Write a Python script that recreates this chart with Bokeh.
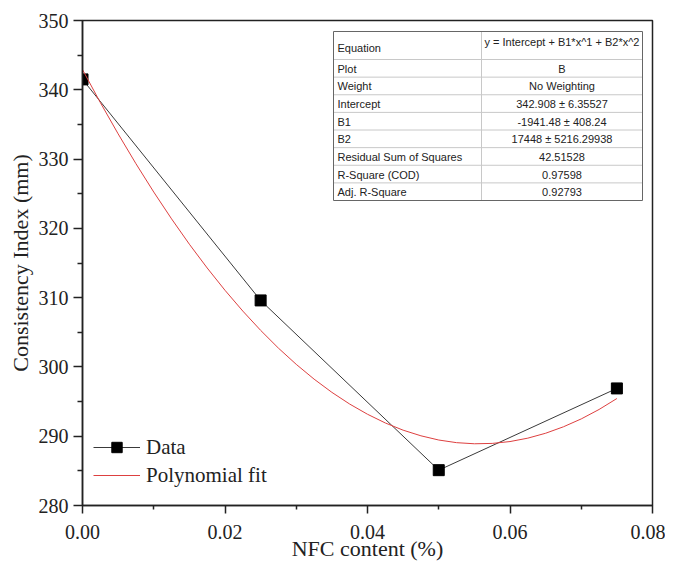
from bokeh.plotting import figure
from bokeh.models import FixedTicker, Range1d, Legend, LegendItem, Title
from bokeh.core.properties import value
from bokeh.embed import file_html
from bokeh.resources import INLINE

# ---- data ----
nfc = [0.0, 0.025, 0.05, 0.075]
consistency = [341.5, 309.6, 285.1, 296.9]

fit_x = [0.0, 0.0025, 0.005, 0.0075, 0.01, 0.0125, 0.015, 0.0175, 0.02, 0.0225,
         0.025, 0.0275, 0.03, 0.0325, 0.035, 0.0375, 0.04, 0.0425, 0.045, 0.0475,
         0.05, 0.0525, 0.055, 0.0575, 0.06, 0.0625, 0.065, 0.0675, 0.07, 0.0725,
         0.075]
fit_y = [342.91, 338.16, 333.64, 329.33, 325.24, 321.37, 317.71, 314.28, 311.06, 308.06,
         305.28, 302.71, 300.37, 298.24, 296.33, 294.64, 293.17, 291.91, 290.87, 290.06,
         289.45, 289.07, 288.91, 288.96, 289.23, 289.72, 290.43, 291.36, 292.50, 293.86,
         295.44]

x_ticks = [0.0, 0.02, 0.04, 0.06, 0.08]
x_minor = [0.01, 0.03, 0.05, 0.07]
x_tick_labels = ["0.00", "0.02", "0.04", "0.06", "0.08"]
y_ticks = [280, 290, 300, 310, 320, 330, 340, 350]
y_minor = [285, 295, 305, 315, 325, 335, 345]

x_title = "NFC content (%)"
y_title = "Consistency Index (mm)"

table_labels = ["Equation", "Plot", "Weight", "Intercept", "B1", "B2",
                "Residual Sum of Squares", "R-Square (COD)", "Adj. R-Square"]
table_values = ["y = Intercept + B1*x^1 + B2*x^2", "B", "No Weighting",
                "342.908 \u00b1 6.35527", "-1941.48 \u00b1 408.24",
                "17448 \u00b1 5216.29938", "42.51528", "0.97598", "0.92793"]

XMIN, XMAX, YMIN, YMAX = 0.0, 0.08, 280, 350

FONT = "Liberation Serif"

p = figure(width=665, height=569, output_backend="svg", toolbar_location=None,
           x_range=Range1d(XMIN, XMAX), y_range=Range1d(YMIN, YMAX),
           min_border_left=82, min_border_top=20, min_border_right=13,
           min_border_bottom=64)
p.grid.visible = False
p.outline_line_color = "#222222"
p.outline_line_width = 1.5
p.background_fill_color = "white"
p.border_fill_color = "white"

# axes
p.xaxis.ticker = FixedTicker(ticks=x_ticks, minor_ticks=x_minor)
p.xaxis.major_label_overrides = {t: l for t, l in zip(x_ticks, x_tick_labels)}
p.yaxis.ticker = FixedTicker(ticks=y_ticks, minor_ticks=y_minor)
p.xaxis.axis_label = x_title
for ax in (p.xaxis, p.yaxis):
    ax.axis_line_color = "#222222"
    ax.axis_line_width = 1.5
    ax.major_tick_line_color = "#222222"
    ax.major_tick_line_width = 1.5
    ax.minor_tick_line_color = "#222222"
    ax.minor_tick_line_width = 1.5
    ax.major_tick_in = 0
    ax.minor_tick_in = 0
    ax.major_label_text_font = FONT
    ax.major_label_text_font_size = "20px"
    ax.major_label_text_color = "#222222"
    ax.axis_label_text_font = FONT
    ax.axis_label_text_font_style = "normal"
    ax.axis_label_text_color = "#222222"
p.xaxis.major_tick_out = 8
p.xaxis.minor_tick_out = 4
p.yaxis.major_tick_out = 9
p.yaxis.minor_tick_out = 5
p.xaxis.axis_label_text_font_size = "22px"
p.xaxis.major_label_standoff = 11
p.yaxis.major_label_standoff = 5
p.xaxis.axis_label_standoff = -6

# y-axis title, placed slightly above centre as in the original
ytitle = Title(text=y_title, align="center", offset=9, standoff=6,
               text_font=FONT, text_font_size="22px", text_font_style="normal",
               text_color="#222222")
p.add_layout(ytitle, "left")

# series
data_line = p.line(nfc, consistency, line_color="#3a3a3a", line_width=1)
data_pts = p.scatter(nfc, consistency, marker="square", size=11,
                     fill_color="black", line_color="black")
fit_line = p.line(fit_x, fit_y, line_color="#dd4040", line_width=1)

legend = Legend(items=[LegendItem(label="Data", renderers=[data_line, data_pts]),
                       LegendItem(label="Polynomial fit", renderers=[fit_line])],
                location=(11, 16), orientation="vertical")
legend.border_line_alpha = 0
legend.background_fill_alpha = 0
legend.padding = 0
legend.margin = 0
legend.spacing = 0
legend.glyph_width = 47
legend.glyph_height = 26
legend.label_height = 28
legend.label_standoff = 6
legend.label_text_font = FONT
legend.label_text_font_size = "21px"
legend.label_text_color = "#222222"
p.add_layout(legend, "center")

# ---- results table, positioned from page pixels ----
PX0, PX1, PY0, PY1 = 82, 652, 505, 20
def dx(px):
    return XMIN + (px - PX0) / (PX1 - PX0) * (XMAX - XMIN)
def dy(py):
    return YMIN + (PY0 - py) / (PY0 - PY1) * (YMAX - YMIN)

T_L, T_M, T_R, T_T, T_B = 333, 481, 642, 31, 200
row_h = (T_B - 59) / 8.0
rows = [T_T, 59] + [59 + row_h * i for i in range(1, 9)]

p.quad(left=[dx(T_L)], right=[dx(T_R)], top=[dy(T_T)], bottom=[dy(T_B)],
       fill_color="white", line_color=None)
hx0, hx1, hy = [], [], []
for r in rows[1:-1]:
    hx0.append(dx(T_L)); hx1.append(dx(T_R)); hy.append(dy(r))
p.segment(x0=hx0, y0=hy, x1=hx1, y1=hy, line_color="#c8c8c8", line_width=1)
p.segment(x0=[dx(T_M)], y0=[dy(T_T)], x1=[dx(T_M)], y1=[dy(T_B)],
          line_color="#c8c8c8", line_width=1)
p.quad(left=[dx(T_L)], right=[dx(T_R)], top=[dy(T_T)], bottom=[dy(T_B)],
       fill_color=None, line_color="#666666", line_width=1)

lab_y = [dy(47)] + [dy((rows[i] + rows[i + 1]) / 2 + 0.5) for i in range(1, 9)]
val_y = [dy(41)] + lab_y[1:]
p.text(x=[dx(T_L + 4)] * len(table_labels), y=lab_y, text=table_labels,
       text_font=value("Liberation Sans"), text_font_size="11px",
       text_align="left", text_baseline="middle", text_color="#222222")
p.text(x=[dx((T_M + T_R) / 2)] * len(table_values), y=val_y, text=table_values,
       text_font=value("Liberation Sans"), text_font_size="11px",
       text_align="center", text_baseline="middle", text_color="#222222")

open("out.html", "w").write(file_html(p, INLINE))
